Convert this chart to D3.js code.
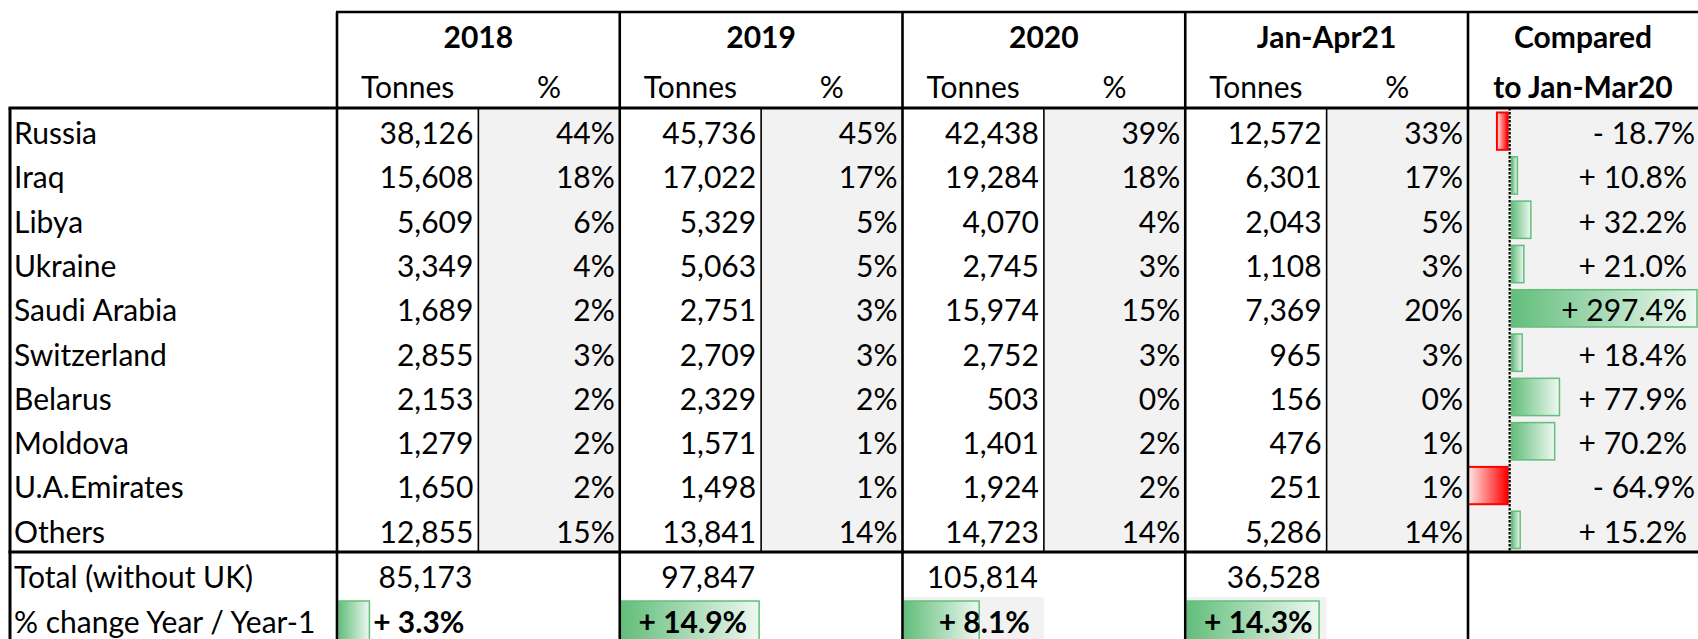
<!DOCTYPE html>
<html>
<head>
<meta charset="utf-8">
<script src="https://d3js.org/d3.v7.min.js"></script>
<style>
	body { margin: 0; background: #fff; }
	svg text { font-family: Lato, "Open Sans", sans-serif; font-size: 30px; fill: #000; }
	svg text.bold { font-weight: bold; }
</style>
<script>
	// table values
	var periods = ["2018", "2019", "2020", "Jan-Apr21"];
	var countries = ["Russia", "Iraq", "Libya", "Ukraine", "Saudi Arabia", "Switzerland", "Belarus", "Moldova", "U.A.Emirates", "Others"];

	var tonnes2018 = [38126, 15608, 5609, 3349, 1689, 2855, 2153, 1279, 1650, 12855];
	var share2018 = [44, 18, 6, 4, 2, 3, 2, 2, 2, 15];
	var tonnes2019 = [45736, 17022, 5329, 5063, 2751, 2709, 2329, 1571, 1498, 13841];
	var share2019 = [45, 17, 5, 5, 3, 3, 2, 1, 1, 14];
	var tonnes2020 = [42438, 19284, 4070, 2745, 15974, 2752, 503, 1401, 1924, 14723];
	var share2020 = [39, 18, 4, 3, 15, 3, 0, 2, 2, 14];
	var tonnes2021 = [12572, 6301, 2043, 1108, 7369, 965, 156, 476, 251, 5286];
	var share2021 = [33, 17, 5, 3, 20, 3, 0, 1, 1, 14];

	var comparedJanMar20 = [-18.7, 10.8, 32.2, 21.0, 297.4, 18.4, 77.9, 70.2, -64.9, 15.2];
	var totals = [85173, 97847, 105814, 36528];
	var yearChange = [3.3, 14.9, 8.1, 14.3];

	var tonnesByPeriod = [tonnes2018, tonnes2019, tonnes2020, tonnes2021];
	var shareByPeriod = [share2018, share2019, share2020, share2021];
</script>
</head>
<body>
<svg id="chart" width="1698" height="639"></svg>
<script>
	var width = 1698, height = 639;
	var tableLeft = 10, labelX = 14;
	var headTop = 12, headBottom = 108, bodyBottom = 552;
	var groupLeft = 337, groupRight = 1468;
	var totalRowTop = 553, changeRowTop = 598;
	var shadedChange = ["2020", "Jan-Apr21"]; // cells with grey fill in the last row

	var green = "#63be7b", red = "#ff0000", grey = "#f2f2f2";

	var svg = d3.select("#chart");

	var x = d3.scaleBand()
		.domain(periods)
		.range([groupLeft, groupRight]);
	var bw = x.bandwidth();
	var half = bw / 2;

	var y = d3.scaleBand()
		.domain(countries)
		.range([headBottom + 1, bodyBottom]);
	var rh = y.bandwidth();

	var xComp = d3.scaleLinear()
		.domain(d3.extent(comparedJanMar20))
		.range([groupRight + 1, width - 2]);

	var xChange = d3.scaleLinear()
		.domain([0, d3.max(yearChange)])
		.range([0, half - 4]);

	var fmt = d3.format(",");
	function fmtSigned(v) {
		return (v < 0 ? "- " : "+ ") + d3.format(".1f")(Math.abs(v)) + "%";
	}

	// gradients for the data bars
	var defs = svg.append("defs");
	var gGreen = defs.append("linearGradient").attr("id", "gradGreen");
	gGreen.append("stop").attr("offset", "0%").attr("stop-color", green);
	gGreen.append("stop").attr("offset", "100%").attr("stop-color", "#eef8f1");
	var gRed = defs.append("linearGradient").attr("id", "gradRed");
	gRed.append("stop").attr("offset", "0%").attr("stop-color", "#ffe8e8");
	gRed.append("stop").attr("offset", "100%").attr("stop-color", red);

	// grey fills
	svg.selectAll(".shareBg")
		.data(periods)
		.enter().append("rect")
			.attr("x", function(d) { return x(d) + half; })
			.attr("y", headBottom)
			.attr("width", half)
			.attr("height", bodyBottom - headBottom)
			.attr("fill", grey);

	svg.append("rect")
		.attr("x", groupRight)
		.attr("y", headBottom)
		.attr("width", width - groupRight)
		.attr("height", bodyBottom - headBottom)
		.attr("fill", grey);

	svg.selectAll(".changeBg")
		.data(shadedChange)
		.enter().append("rect")
			.attr("x", function(d) { return x(d); })
			.attr("y", changeRowTop - 1)
			.attr("width", half)
			.attr("height", height - changeRowTop + 1)
			.attr("fill", grey);

	// compared bars
	svg.selectAll(".compBar")
		.data(comparedJanMar20)
		.enter().append("rect")
			.attr("class", "compBar")
			.attr("x", function(d) { return Math.min(xComp(d), xComp(0)); })
			.attr("y", function(d, i) { return y(countries[i]) + 3.5; })
			.attr("width", function(d) { return Math.abs(xComp(d) - xComp(0)) - 1; })
			.attr("height", rh - 7)
			.attr("fill", function(d) { return d < 0 ? "url(#gradRed)" : "url(#gradGreen)"; })
			.attr("stroke", function(d) { return d < 0 ? red : green; })
			.attr("stroke-width", function(d) { return d < 0 ? 2 : 1.5; })
			.attr("transform", function(d) { return d < 0 ? "translate(-1,0)" : "translate(2,0)"; });

	svg.append("line")
		.attr("x1", xComp(0)).attr("x2", xComp(0))
		.attr("y1", headBottom).attr("y2", bodyBottom)
		.attr("stroke", "#000")
		.attr("stroke-width", 2.2)
		.attr("stroke-dasharray", "2.5,1.5");

	// year change bars
	svg.selectAll(".changeBar")
		.data(yearChange)
		.enter().append("rect")
			.attr("x", function(d, i) { return x(periods[i]) + 2; })
			.attr("y", changeRowTop + 3)
			.attr("width", function(d) { return xChange(d); })
			.attr("height", height - changeRowTop + 5)
			.attr("fill", "url(#gradGreen)")
			.attr("stroke", green)
			.attr("stroke-width", 1.5);

	// grid lines
	var thick = 2.6, thin = 1.6;
	function hline(x1, x2, yy, w) {
		svg.append("line").attr("x1", x1).attr("x2", x2).attr("y1", yy).attr("y2", yy)
			.attr("stroke", "#000").attr("stroke-width", w);
	}
	function vline(xx, y1, y2, w) {
		svg.append("line").attr("x1", xx).attr("x2", xx).attr("y1", y1).attr("y2", y2)
			.attr("stroke", "#000").attr("stroke-width", w);
	}
	hline(groupLeft - 1, width, headTop, thick);
	hline(tableLeft - 1.5, width, headBottom, 3.2);
	hline(tableLeft - 1.5, width, bodyBottom, 3.2);
	vline(tableLeft, headBottom, height, 3);
	periods.forEach(function(p) {
		vline(x(p), headTop, height, thick);
		vline(x(p) + half, headBottom, bodyBottom, thin);
	});
	vline(groupRight, headTop, height, thick);

	// header text
	svg.selectAll(".periodLabel")
		.data(periods)
		.enter().append("text")
			.attr("class", "bold")
			.attr("x", function(d) { return x(d) + half; })
			.attr("y", 48)
			.attr("text-anchor", "middle")
			.text(function(d) { return d; });

	periods.forEach(function(p) {
		svg.append("text")
			.attr("x", x(p) + half / 2)
			.attr("y", 98)
			.attr("text-anchor", "middle")
			.text("Tonnes");
		svg.append("text")
			.attr("x", x(p) + half * 1.5)
			.attr("y", 98)
			.attr("text-anchor", "middle")
			.text("%");
	});

	var compMid = (groupRight + width) / 2;
	svg.append("text").attr("class", "bold").attr("x", compMid).attr("y", 48)
		.attr("text-anchor", "middle").text("Compared");
	svg.append("text").attr("class", "bold").attr("x", compMid).attr("y", 98)
		.attr("text-anchor", "middle").text("to Jan-Mar20");

	// body text
	svg.selectAll(".country")
		.data(countries)
		.enter().append("text")
			.attr("x", labelX)
			.attr("y", function(d) { return y(d) + 35; })
			.text(function(d) { return d; });

	periods.forEach(function(p, k) {
		svg.selectAll(".tonnes" + k)
			.data(tonnesByPeriod[k])
			.enter().append("text")
				.attr("x", x(p) + half - 5)
				.attr("y", function(d, i) { return y(countries[i]) + 35; })
				.attr("text-anchor", "end")
				.text(function(d) { return fmt(d); });
		svg.selectAll(".share" + k)
			.data(shareByPeriod[k])
			.enter().append("text")
				.attr("x", x(p) + bw - 5)
				.attr("y", function(d, i) { return y(countries[i]) + 35; })
				.attr("text-anchor", "end")
				.text(function(d) { return d + "%"; });
	});

	svg.selectAll(".compText")
		.data(comparedJanMar20)
		.enter().append("text")
			.attr("x", function(d) { return d < 0 ? width - 3 : width - 11; })
			.attr("y", function(d, i) { return y(countries[i]) + 35; })
			.attr("text-anchor", "end")
			.text(fmtSigned);

	// totals
	svg.append("text").attr("x", labelX).attr("y", totalRowTop + 35).text("Total (without UK)");
	svg.append("text").attr("x", labelX).attr("y", changeRowTop + 35).text("% change Year / Year-1");

	svg.selectAll(".total")
		.data(totals)
		.enter().append("text")
			.attr("x", function(d, i) { return x(periods[i]) + half - 6; })
			.attr("y", totalRowTop + 35)
			.attr("text-anchor", "end")
			.text(function(d) { return fmt(d); });

	svg.selectAll(".change")
		.data(yearChange)
		.enter().append("text")
			.attr("class", "bold")
			.attr("x", function(d, i) { return x(periods[i]) + half - 14; })
			.attr("y", changeRowTop + 35)
			.attr("text-anchor", "end")
			.text(fmtSigned);
</script>
</body>
</html>
